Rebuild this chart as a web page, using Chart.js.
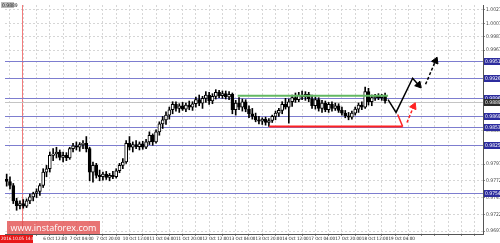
<!DOCTYPE html>
<html>
<head>
<meta charset="utf-8">
<script src="https://cdn.jsdelivr.net/npm/chart.js@4"></script>
<style>
  html, body { margin: 0; padding: 0; background: #fff; }
  canvas { display: block; }
</style>
</head>
<body>
<canvas id="chart" width="500" height="243"></canvas>
<script>
// candles (2h each)
const open = [0.9774,0.9771,0.9765,0.9742,0.9735,0.9738,0.9734,0.9742,0.9748,0.9753,
  0.9756,0.9765,0.9785,0.9790,0.9810,0.9812,0.9815,0.9807,0.9810,0.9806,
  0.9820,0.9824,0.9822,0.9826,0.9828,0.9820,0.9785,0.9795,0.9780,0.9778,
  0.9782,0.9777,0.9780,0.9778,0.9787,0.9795,0.9800,0.9828,0.9822,0.9826,
  0.9823,0.9827,0.9822,0.9830,0.9840,0.9830,0.9845,0.9857,0.9863,0.9870,
  0.9878,0.9886,0.9880,0.9884,0.9879,0.9885,0.9882,0.9887,0.9893,0.9888,
  0.9895,0.9900,0.9891,0.9898,0.9904,0.9899,0.9902,0.9897,0.9901,0.9878,
  0.9888,0.9882,0.9890,0.9879,0.9872,0.9868,0.9863,0.9861,0.9864,0.9859,
  0.9862,0.9868,0.9873,0.9877,0.9886,0.9882,0.9890,0.9896,0.9893,0.9900,
  0.9897,0.9901,0.9894,0.9884,0.9893,0.9880,0.9888,0.9878,0.9886,0.9880,
  0.9884,0.9877,0.9873,0.9869,0.9867,0.9873,0.9879,0.9885,0.9882,0.9905,
  0.9890,0.9896,0.9898,0.9896,0.9899];
const high = [0.9782,0.9778,0.9768,0.9746,0.9742,0.9744,0.9745,0.9752,0.9755,0.9760,
  0.9768,0.9790,0.9795,0.9815,0.9820,0.9822,0.9818,0.9815,0.9814,0.9822,
  0.9828,0.9830,0.9829,0.9832,0.9838,0.9822,0.9800,0.9798,0.9788,0.9785,
  0.9786,0.9783,0.9786,0.9790,0.9798,0.9805,0.9832,0.9838,0.9830,0.9832,
  0.9830,0.9831,0.9834,0.9845,0.9842,0.9848,0.9860,0.9868,0.9875,0.9882,
  0.9890,0.9890,0.9887,0.9889,0.9888,0.9891,0.9890,0.9897,0.9900,0.9898,
  0.9905,0.9904,0.9902,0.9908,0.9907,0.9906,0.9906,0.9905,0.9903,0.9892,
  0.9896,0.9894,0.9893,0.9884,0.9880,0.9873,0.9868,0.9866,0.9867,0.9865,
  0.9870,0.9876,0.9880,0.9890,0.9895,0.9894,0.9900,0.9903,0.9904,0.9906,
  0.9905,0.9904,0.9900,0.9897,0.9896,0.9892,0.9891,0.9889,0.9890,0.9888,
  0.9887,0.9882,0.9877,0.9874,0.9876,0.9882,0.9888,0.9890,0.9912,0.9910,
  0.9900,0.9901,0.9902,0.9901,0.9903];
const low = [0.9764,0.9760,0.9738,0.9728,0.9730,0.9731,0.9732,0.9738,0.9742,0.9747,
  0.9750,0.9762,0.9778,0.9785,0.9802,0.9806,0.9803,0.9800,0.9802,0.9804,
  0.9815,0.9818,0.9816,0.9820,0.9815,0.9772,0.9770,0.9776,0.9772,0.9773,
  0.9774,0.9772,0.9775,0.9776,0.9784,0.9790,0.9798,0.9818,0.9815,0.9820,
  0.9818,0.9819,0.9820,0.9826,0.9825,0.9828,0.9840,0.9850,0.9856,0.9864,
  0.9872,0.9876,0.9874,0.9877,0.9875,0.9878,0.9877,0.9882,0.9884,0.9880,
  0.9889,0.9886,0.9887,0.9894,0.9896,0.9895,0.9894,0.9893,0.9872,0.9870,
  0.9878,0.9876,0.9875,0.9866,0.9864,0.9860,0.9857,0.9856,0.9855,0.9853,
  0.9859,0.9863,0.9868,0.9872,0.9879,0.9858,0.9883,0.9889,0.9890,0.9893,
  0.9892,0.9890,0.9880,0.9879,0.9876,0.9874,0.9875,0.9874,0.9876,0.9877,
  0.9874,0.9870,0.9866,0.9863,0.9864,0.9870,0.9874,0.9878,0.9880,0.9885,
  0.9884,0.9892,0.9893,0.9892,0.9888];
const close = [0.9771,0.9765,0.9742,0.9735,0.9738,0.9734,0.9742,0.9748,0.9753,0.9756,
  0.9765,0.9785,0.9790,0.9810,0.9812,0.9815,0.9807,0.9810,0.9806,0.9820,
  0.9824,0.9822,0.9826,0.9828,0.9820,0.9785,0.9795,0.9780,0.9778,0.9782,
  0.9777,0.9780,0.9778,0.9787,0.9795,0.9800,0.9828,0.9822,0.9826,0.9823,
  0.9827,0.9822,0.9830,0.9840,0.9830,0.9845,0.9857,0.9863,0.9870,0.9878,
  0.9886,0.9880,0.9884,0.9879,0.9885,0.9882,0.9887,0.9893,0.9888,0.9895,
  0.9900,0.9891,0.9898,0.9904,0.9899,0.9902,0.9897,0.9901,0.9878,0.9888,
  0.9882,0.9890,0.9879,0.9872,0.9868,0.9863,0.9861,0.9864,0.9859,0.9862,
  0.9868,0.9873,0.9877,0.9886,0.9882,0.9890,0.9896,0.9893,0.9900,0.9897,
  0.9901,0.9894,0.9884,0.9893,0.9880,0.9888,0.9878,0.9886,0.9880,0.9884,
  0.9877,0.9873,0.9869,0.9867,0.9873,0.9879,0.9885,0.9882,0.9905,0.9890,
  0.9896,0.9898,0.9896,0.9899,0.9891];

// time axis labels, one every 8 bars starting at bar 11
const timeLabels = ['6 Oct 12:00','7 Oct 04:00','7 Oct 20:00','10 Oct 12:00','11 Oct 04:00',
  '11 Oct 20:00','12 Oct 12:00','13 Oct 04:00','13 Oct 20:00','14 Oct 12:00',
  '17 Oct 04:00','17 Oct 20:00','18 Oct 12:00','19 Oct 04:00'];
const firstLabelBar = 11;
const barsPerLabel = 8;
const totalSlots = 144;

// price axis labels
const priceTicks = [1.0027, 1.0007, 0.9987, 0.9967, 0.9847, 0.9797, 0.9772, 0.9747, 0.9722, 0.9697];
const yMin = 0.96926, yMax = 1.00343;

// horizontal levels (blue), last price and the red marker bar
const levels = [0.9951, 0.9926, 0.9896, 0.9869, 0.9853, 0.9825, 0.9754];
const lastPrice = 0.9889;
const markerBar = 4.6;

// drawn lines: [bar, price]
const resistLine = [[69.6, 0.9899], [114.9, 0.9899]];
const supportLine = [[79.1, 0.9853], [119.3, 0.9853]];
const mainPath = [[114.9, 0.9893], [117.3, 0.9874], [122.3, 0.9925], [124.1, 0.9915]];
const altUp = [[126.2, 0.9916], [129.2, 0.9951]];
const redDown = [[117.8, 0.9871], [119.3, 0.9853]];
const redUp = [[120.6, 0.9859], [122.6, 0.9883]];

const tinyFont = '"Liberation Sans Narrow", "DejaVu Sans Condensed", "Liberation Sans"';

function path(pts, color, width, dash, arrowRot) {
  return {
    type: 'line',
    data: pts.map(p => ({x: p[0], y: p[1]})),
    borderColor: color,
    borderWidth: width,
    borderDash: dash,
    pointRadius: pts.map((p, i) => (arrowRot != null && i == pts.length - 1) ? 4 : 0),
    pointStyle: 'triangle',
    rotation: arrowRot || 0,
    pointBackgroundColor: color,
    pointBorderColor: color,
    pointBorderWidth: 1,
    tension: 0,
    order: 0
  };
}

const decor = {
  id: 'decor',
  beforeDatasetsDraw(chart) {
    const {ctx, chartArea: a, scales: {x, y}} = chart;
    ctx.save();
    // red vertical marker
    ctx.strokeStyle = 'rgba(240,100,100,0.85)';
    ctx.lineWidth = 1;
    const mx = Math.round(x.getPixelForValue(markerBar)) + 0.5;
    ctx.beginPath(); ctx.moveTo(mx, a.top); ctx.lineTo(mx, a.bottom); ctx.stroke();
    // last price line
    ctx.strokeStyle = '#c4c4c4';
    const py = Math.round(y.getPixelForValue(lastPrice)) + 0.5;
    ctx.beginPath(); ctx.moveTo(a.left, py); ctx.lineTo(a.right, py); ctx.stroke();
    // blue levels
    ctx.strokeStyle = '#7d7dcf';
    levels.forEach(v => {
      const ly = Math.round(y.getPixelForValue(v)) + 0.5;
      ctx.beginPath(); ctx.moveTo(a.left, ly); ctx.lineTo(a.right, ly); ctx.stroke();
    });
    ctx.restore();
  },
  afterDraw(chart) {
    const {ctx, chartArea: a, scales: {y}} = chart;
    ctx.save();
    ctx.font = '5px ' + tinyFont;
    ctx.textBaseline = 'middle';
    ctx.textAlign = 'left';
    const tag = (v, bg) => {
      const ty = Math.round(y.getPixelForValue(v));
      ctx.fillStyle = bg;
      ctx.fillRect(a.right + 1, ty - 3, 16, 7);
      ctx.fillStyle = '#fff';
      ctx.fillText(v.toFixed(4), a.right + 2, ty + 0.5);
    };
    levels.forEach(v => tag(v, '#2c2c9e'));
    tag(lastPrice, '#2a2a2a');

    // top-left price tag
    ctx.fillStyle = '#bdbdbd';
    ctx.fillRect(1, 2, 13, 6);
    ctx.fillStyle = '#222';
    ctx.fillText(lastPrice.toFixed(4), 2, 5.5);

    // bottom-left date box
    ctx.fillStyle = '#e81818';
    ctx.fillRect(0, a.bottom + 1, 33, 8);
    ctx.fillStyle = '#fff';
    ctx.font = '4.5px ' + tinyFont;
    ctx.fillText('2016.10.05 14:00', 1, a.bottom + 5);

    // watermark
    ctx.fillStyle = 'rgba(226,80,80,0.8)';
    ctx.fillRect(7, a.bottom - 13, 93, 13);
    ctx.fillStyle = '#fff';
    ctx.font = '9px "Open Sans"';
    ctx.textAlign = 'center';
    ctx.fillText('[  www.instaforex.com  ]', 53.5, a.bottom - 6);
    ctx.restore();
  }
};

const ctx = document.getElementById('chart');
const main_chart = new Chart(ctx, {
  type: 'bar',
  data: {
    datasets: [
      // wicks
      {
        data: high.map((h, i) => ({x: i, y: [low[i], h]})),
        backgroundColor: '#000',
        barThickness: 1,
        grouped: false,
        order: 2
      },
      // bodies
      {
        data: open.map((o, i) => ({x: i, y: [o, close[i]]})),
        backgroundColor: open.map((o, i) => close[i] >= o ? '#fff' : '#000'),
        borderColor: '#000',
        borderWidth: 1,
        borderSkipped: false,
        barThickness: 3,
        grouped: false,
        order: 1
      },
      path(resistLine, '#63b863', 2, []),
      path(supportLine, '#f22', 2, []),
      path(mainPath, '#000', 1.5, [], 139),
      path(altUp, '#000', 1.5, [3, 2], 23),
      path(redDown, '#f22', 1.5, []),
      path(redUp, '#f22', 1.5, [3, 2], 24)
    ]
  },
  options: {
    responsive: false,
    animation: false,
    devicePixelRatio: 1,
    layout: { padding: 0 },
    plugins: { legend: { display: false }, tooltip: { enabled: false } },
    scales: {
      x: {
        type: 'linear',
        min: -0.5,
        max: totalSlots - 0.5,
        offset: false,
        afterBuildTicks: (scale) => {
          const t = [];
          for (let v = firstLabelBar % 4; v < totalSlots; v += 4) t.push({value: v});
          scale.ticks = t;
        },
        afterFit: (scale) => { scale.height = 9; },
        grid: { color: '#d6d6d6', tickLength: 2, tickColor: '#888' },
        border: { dash: [2, 2], color: '#555', width: 1 },
        ticks: {
          autoSkip: false,
          maxRotation: 0,
          minRotation: 0,
          align: 'start',
          padding: 0,
          color: '#222',
          font: { size: 4.5, family: tinyFont },
          callback: (v) => {
            const k = (v - firstLabelBar) / barsPerLabel;
            return (Number.isInteger(k) && k >= 0 && k < timeLabels.length) ? timeLabels[k] : '';
          }
        }
      },
      y: {
        type: 'linear',
        position: 'right',
        min: yMin,
        max: yMax,
        afterBuildTicks: (scale) => { scale.ticks = priceTicks.map(v => ({value: v})); },
        afterFit: (scale) => { scale.width = 17; },
        grid: { color: '#d6d6d6', tickLength: 2, tickColor: '#888' },
        border: { dash: [2, 2], color: '#555', width: 1 },
        ticks: {
          padding: 1,
          color: '#444',
          font: { size: 5, family: tinyFont },
          callback: (v) => v.toFixed(4)
        }
      }
    }
  },
  plugins: [decor]
});
</script>
</body>
</html>
